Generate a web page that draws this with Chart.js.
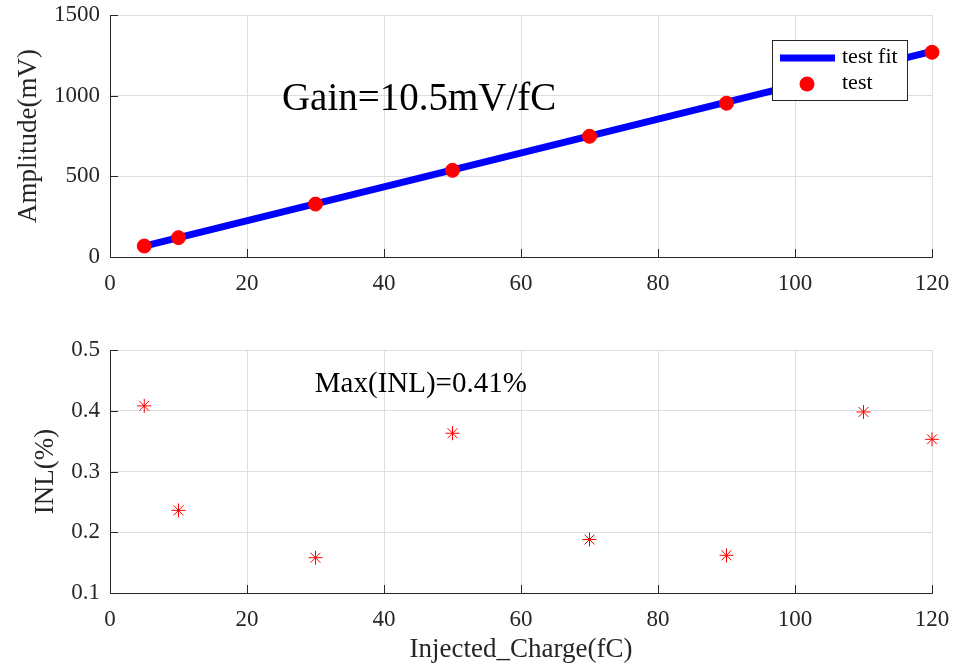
<!DOCTYPE html>
<html><head><meta charset="utf-8">
<script src="https://cdn.jsdelivr.net/npm/chart.js@4.4.0/dist/chart.umd.min.js"></script>
<style>
html,body{margin:0;padding:0;background:#fff;width:971px;height:670px;overflow:hidden}
#c1{position:absolute;left:0;top:0}
#c2{position:absolute;left:0;top:300px}
</style></head><body>
<canvas id="c1" width="971" height="300"></canvas>
<canvas id="c2" width="971" height="370"></canvas>
<script>
// ---- data ----
const charge = [5, 10, 30, 50, 70, 90, 110, 120];
const amplitude = [68, 120, 328, 537, 748, 953, 1165, 1269];
const fitCharge = [5, 120];
const fitAmplitude = [67, 1275];
const inl = [0.408, 0.236, 0.158, 0.363, 0.188, 0.162, 0.398, 0.353];
const xTicks = [0, 20, 40, 60, 80, 100, 120];
const ampTicks = [0, 500, 1000, 1500];
const inlTicks = [0.1, 0.2, 0.3, 0.4, 0.5];
const gainText = 'Gain=10.5mV/fC';
const gainPos = [25.1, 911];
const inlText = 'Max(INL)=0.41%';
const inlPos = [29.9, 0.431];

const SERIF = "'Liberation Serif','Times New Roman',serif";
const AX = '#262626';
const GRID = '#dedede';
Chart.defaults.font.family = SERIF;
Chart.defaults.color = AX;

function pts(xs, ys) { return xs.map((x, i) => ({x: x, y: ys[i]})); }

const inwardTicks = {
  id: 'inwardTicks',
  afterDatasetsDraw(chart) {
    const ctx = chart.ctx, a = chart.chartArea;
    const xs = chart.scales.x, ys = chart.scales.y;
    ctx.save();
    ctx.strokeStyle = AX; ctx.lineWidth = 1;
    ctx.beginPath();
    xs.ticks.forEach(t => { const p = Math.round(xs.getPixelForValue(t.value)) + 0.5; ctx.moveTo(p, a.bottom); ctx.lineTo(p, a.bottom - 8); });
    ys.ticks.forEach(t => { const p = Math.round(ys.getPixelForValue(t.value)) + 0.5; ctx.moveTo(a.left, p); ctx.lineTo(a.left + 8, p); });
    ctx.stroke();
    ctx.restore();
  }
};

function textPlugin(id, text, pos, size) {
  return {
    id: id,
    afterDraw(chart) {
      const ctx = chart.ctx;
      ctx.save();
      ctx.font = size + 'px ' + SERIF;
      ctx.fillStyle = '#000';
      ctx.textAlign = 'left'; ctx.textBaseline = 'alphabetic';
      ctx.fillText(text, chart.scales.x.getPixelForValue(pos[0]), chart.scales.y.getPixelForValue(pos[1]));
      ctx.restore();
    }
  };
}

const legendBox = {
  id: 'legendBox',
  afterDraw(chart) {
    const ctx = chart.ctx, a = chart.chartArea;
    const w = 135, h = 60;
    const x0 = a.right - 25 - w, y0 = a.top + 25;
    ctx.save();
    ctx.fillStyle = '#fff';
    ctx.fillRect(x0, y0, w, h);
    ctx.strokeStyle = AX; ctx.lineWidth = 1;
    ctx.strokeRect(Math.round(x0) + 0.5, Math.round(y0) + 0.5, w, h);
    ctx.strokeStyle = '#0000ff'; ctx.lineWidth = 7;
    ctx.beginPath(); ctx.moveTo(x0 + 8, y0 + 18); ctx.lineTo(x0 + 63, y0 + 18); ctx.stroke();
    ctx.fillStyle = '#ff0000';
    ctx.beginPath(); ctx.arc(x0 + 35, y0 + 44, 7.5, 0, Math.PI * 2); ctx.fill();
    ctx.fillStyle = '#000';
    ctx.font = '22px ' + SERIF;
    ctx.textAlign = 'left'; ctx.textBaseline = 'middle';
    ctx.fillText('test fit', x0 + 70, y0 + 17);
    ctx.fillText('test', x0 + 70, y0 + 43);
    ctx.restore();
  }
};

function xScale(showTitle, titlePadBottom, axisHeight) {
  return {
    type: 'linear', min: 0, max: 120,
    afterBuildTicks: s => { s.ticks = xTicks.map(v => ({value: v})); },
    afterFit: s => { s.height = axisHeight; },
    grid: { color: GRID, drawTicks: false, lineWidth: 1 },
    border: { display: true, color: AX, width: 1 },
    ticks: { font: { size: 23 }, color: AX, padding: 13, maxRotation: 0, callback: v => String(v) },
    title: { display: showTitle, text: 'Injected_Charge(fC)', font: { size: 27 }, color: AX, padding: { top: 0, bottom: titlePadBottom } }
  };
}

function yScale(min, max, ticks, title, padTop) {
  return {
    type: 'linear', min: min, max: max,
    afterBuildTicks: s => { s.ticks = ticks.map(v => ({value: v})); },
    afterFit: s => { s.width = 110; s.paddingTop = 0; s.paddingBottom = 0; },
    grid: { color: GRID, drawTicks: false, lineWidth: 1 },
    border: { display: true, color: AX, width: 1 },
    ticks: { font: { size: 23 }, color: AX, padding: 10, callback: v => String(v) },
    title: { display: true, text: title, font: { size: 27 }, color: AX, padding: { top: padTop, bottom: 0 } }
  };
}

new Chart(document.getElementById('c1'), {
  type: 'scatter',
  data: {
    datasets: [
      { label: 'test', data: pts(charge, amplitude), showLine: false, clip: false, pointStyle: 'circle', pointRadius: 7, pointBackgroundColor: '#ff0000', pointBorderColor: '#ff0000', pointBorderWidth: 1 },
      { label: 'test fit', data: pts(fitCharge, fitAmplitude), showLine: true, clip: false, borderColor: '#0000ff', borderWidth: 7, pointRadius: 0, fill: false }
    ]
  },
  options: {
    responsive: false, animation: false, devicePixelRatio: 1,
    layout: { padding: { top: 15, right: 39, left: 0, bottom: 0 } },
    plugins: { legend: { display: false }, tooltip: { enabled: false } },
    scales: { x: xScale(false, 0, 43), y: yScale(0, 1500, ampTicks, 'Amplitude(mV)', 13) }
  },
  plugins: [inwardTicks, textPlugin('gainText', gainText, gainPos, 39), legendBox]
});

new Chart(document.getElementById('c2'), {
  type: 'scatter',
  data: {
    datasets: [
      { label: 'INL', data: pts(charge, inl), showLine: false, clip: false, pointStyle: 'star', pointRadius: 7, pointBorderColor: '#ff0000', pointBackgroundColor: '#ff0000', pointBorderWidth: 1 }
    ]
  },
  options: {
    responsive: false, animation: false, devicePixelRatio: 1,
    layout: { padding: { top: 50, right: 39, left: 0, bottom: 0 } },
    plugins: { legend: { display: false }, tooltip: { enabled: false } },
    scales: { x: xScale(true, 4, 77), y: yScale(0.1, 0.5, inlTicks, 'INL(%)', 30) }
  },
  plugins: [inwardTicks, textPlugin('inlText', inlText, inlPos, 29)]
});
</script>
</body></html>
